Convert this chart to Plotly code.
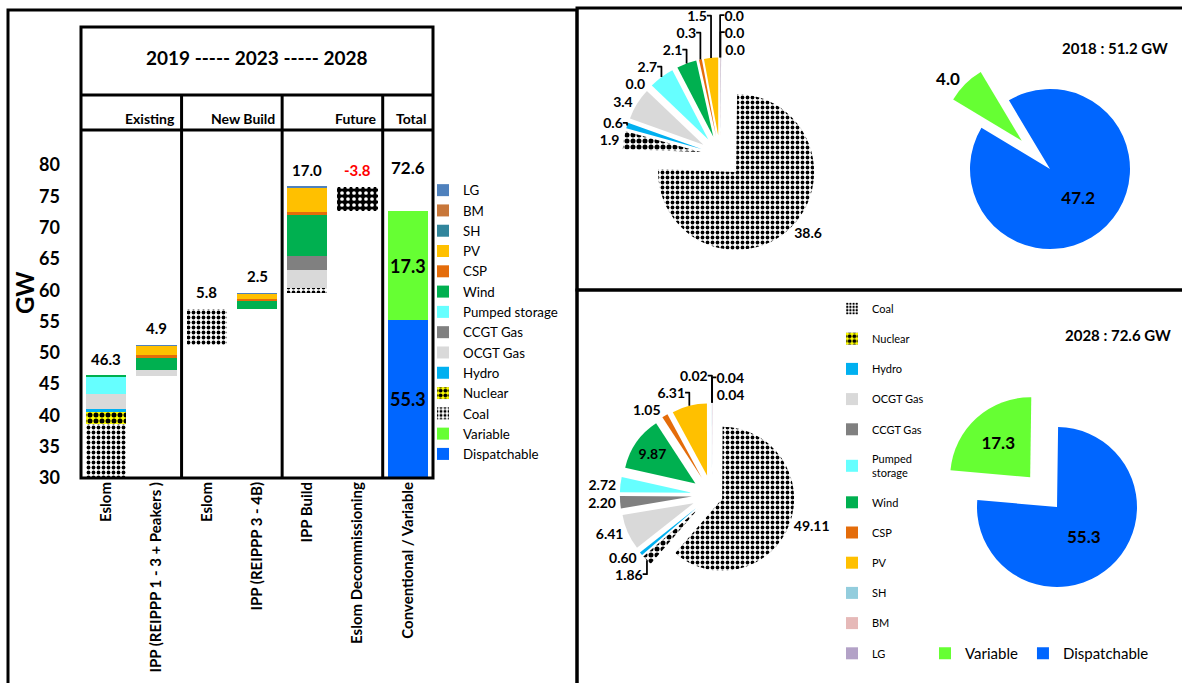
import plotly.graph_objects as go

W, H = 1182, 683
FONT = "Lato"

# ---------------- data ----------------
categories = ["Eslom", "IPP (REIPPP 1 - 3 + Peakers )", "Eslom", "IPP (REIPPP 3 - 4B)",
              "IPP Build", "Eslom Decommissioning", "Conventional / Variable"]
coal = [38.6, 0, 5.8, 0, 0.8, 0, 0]
nuclear = [1.9, 0, 0, 0, 0, 0, 0]
hydro = [0.6, 0, 0, 0, 0, 0, 0]
ocgt = [2.4, 1.0, 0, 0, 3.0, 0, 0]
ccgt = [0, 0, 0, 0, 2.2, 0, 0]
pumped = [2.7, 0, 0, 0, 0, 0, 0]
wind = [0.1, 2.0, 0, 1.3, 6.47, 0, 0]
csp = [0, 0.3, 0, 0.25, 0.5, 0, 0]
pv = [0, 1.5, 0, 0.9, 3.91, 0, 0]
sh = [0, 0.04, 0, 0, 0.02, 0, 0]
bm = [0, 0.02, 0, 0.02, 0.05, 0, 0]
lg = [0, 0.04, 0, 0.03, 0.05, 0, 0]
decommissioning = [0, 0, 0, 0, 0, 3.8, 0]
dispatchable = [0, 0, 0, 0, 0, 0, 55.3]
variable = [0, 0, 0, 0, 0, 0, 17.3]
y_ticks = [30, 35, 40, 45, 50, 55, 60, 65, 70, 75, 80]

mix_labels = ["Coal", "Nuclear", "Hydro", "OCGT Gas", "CCGT Gas", "Pumped storage",
              "Wind", "CSP", "PV", "SH", "BM", "LG"]
mix_2018 = [38.6, 1.9, 0.6, 3.4, 0.0, 2.7, 2.1, 0.3, 1.5, 0.02, 0.04, 0.04]
mix_2028 = [49.11, 1.86, 0.60, 6.41, 2.20, 2.72, 9.87, 1.05, 6.31, 0.02, 0.04, 0.04]

vd_labels = ["Variable", "Dispatchable"]
vd_2018 = [4.0, 47.2]
vd_2028 = [17.3, 55.3]
years = ["2018", "2028"]

header_text = "2019 ----- 2023 ----- 2028"
groups = ["Existing", "New Build", "Future", "Total"]

# ---------------- helpers ----------------
def px(x):
    return x / W


def py(y):
    return 1 - y / H


n = len(categories)
xs = list(range(n))
stack_series = [
    ("Coal", coal), ("Nuclear", nuclear), ("Hydro", hydro), ("OCGT Gas", ocgt),
    ("CCGT Gas", ccgt), ("Pumped storage", pumped), ("Wind", wind), ("CSP", csp),
    ("PV", pv), ("SH", sh), ("BM", bm), ("LG", lg),
]
bar_colors = {
    "Coal": "white", "Nuclear": "#ffff00", "Hydro": "#00b0f0", "OCGT Gas": "#d9d9d9",
    "CCGT Gas": "#808080", "Pumped storage": "#66ffff", "Wind": "#00b050", "CSP": "#e46c0a",
    "PV": "#ffc000", "SH": "#31859c", "BM": "#c8773a", "LG": "#4f81bd",
}
pie_colors = {
    "Coal": "white", "Nuclear": "#ffff00", "Hydro": "#00b0f0", "OCGT Gas": "#d9d9d9",
    "CCGT Gas": "#808080", "Pumped storage": "#66ffff", "Wind": "#00b050", "CSP": "#e46c0a",
    "PV": "#ffc000", "SH": "#93cddd", "BM": "#e6b9b8", "LG": "#b3a2c7",
}
VAR_C, DISP_C = "#66ff33", "#0066ff"

col_tot = [sum(s[i] for _, s in stack_series) for i in range(n)]
offset, running = [], 0.0
for i in range(n):
    if decommissioning[i] > 0:
        running -= decommissioning[i]
        offset.append(running)
    elif dispatchable[i] + variable[i] > 0:
        offset.append(0)
    else:
        offset.append(running)
        running += col_tot[i]


def pattern_for(name, small=False):
    if name == "Coal":
        return dict(shape=".", fgcolor="black", bgcolor="white", size=4 if small else 5, solidity=0.45)
    if name == "Nuclear":
        return dict(shape=".", fgcolor="black", bgcolor="#ffff00", size=6, solidity=0.55)
    return None


fig = go.Figure()

# invisible waterfall offset
fig.add_trace(go.Bar(x=xs, y=offset, marker=dict(color="rgba(0,0,0,0)", line=dict(width=0)),
                     showlegend=False, hoverinfo="skip"))
# decommissioning block
fig.add_trace(go.Bar(x=xs, y=decommissioning, showlegend=False,
                     marker=dict(color="black", line=dict(width=0),
                                 pattern=dict(shape=".", fgcolor="white", bgcolor="black", size=6, solidity=0.3))))
fig.add_trace(go.Bar(x=xs, y=dispatchable, name="Dispatchable", marker=dict(color=DISP_C, line=dict(width=0))))
fig.add_trace(go.Bar(x=xs, y=variable, name="Variable", marker=dict(color=VAR_C, line=dict(width=0))))
for name, vals in stack_series:
    mk = dict(color=bar_colors[name], line=dict(width=0))
    p = pattern_for(name)
    if p:
        mk["pattern"] = p
    fig.add_trace(go.Bar(x=xs, y=vals, name=name, marker=mk))

# legend2 entries (2028 mix pie legend)
for i, name in enumerate(mix_labels):
    mk = dict(color=pie_colors[name], line=dict(width=0))
    p = pattern_for(name, small=True)
    if p:
        mk["pattern"] = p
    fig.add_trace(go.Bar(x=[None], y=[None], name=name.replace("Pumped storage", "Pumped<br>storage"),
                         marker=mk, legend="legend2", legendgroup=f"mix{i}", showlegend=True))


# pies
def mix_pie(values, center, pulls, fmt, textpos, domain_half, front):
    # tiny slices listed in `front` are drawn first (just clockwise of 12 o'clock)
    order = [mix_labels.index(f) for f in front] + [i for i, l in enumerate(mix_labels) if l not in front]
    labs = [mix_labels[i] for i in order]
    vals = [values[i] for i in order]
    pl = [pulls[i] for i in order]
    tp = [textpos[i] for i in order]
    cx, cy = center
    shapes = ["." if l in ("Coal", "Nuclear") else "" for l in labs]
    fg = ["black" if l in ("Coal", "Nuclear") else pie_colors[l] for l in labs]
    sol = [0.45 if l == "Coal" else (0.55 if l == "Nuclear" else 0.3) for l in labs]
    sz = [5 if l == "Coal" else 6 for l in labs]
    return go.Pie(
        labels=labs, values=vals, sort=False, direction="clockwise", rotation=0,
        pull=pl, showlegend=False,
        marker=dict(colors=[pie_colors[l] for l in labs], line=dict(width=0),
                    pattern=dict(shape=shapes, fgcolor=fg, solidity=sol, size=sz)),
        texttemplate="%{value:" + fmt + "}", textposition=tp,
        insidetextorientation="horizontal",
        textfont=dict(family=FONT, size=14, color="black", weight="bold"),
        domain=dict(x=[px(cx - domain_half), px(cx + domain_half)],
                    y=[py(cy + domain_half), py(cy - domain_half)]),
        hoverinfo="label+value",
    )


pull_2018 = [0.3] + [0.25] * (len(mix_labels) - 1)
fig.add_trace(mix_pie(mix_2018, (720, 155), pull_2018, ".1f", ["outside"] * len(mix_labels),
                      78 * 1.3, ["SH", "BM", "LG"]))
pull_2028 = [0.15] + [0.28] * (len(mix_labels) - 1)
tp_2028 = ["inside" if l == "Wind" else "outside" for l in mix_labels]
fig.add_trace(mix_pie(mix_2028, (712, 495), pull_2028, ".2f", tp_2028, 72 * 1.28, ["BM", "LG"]))


def vd_pie(values, center, rotation, textpos, show_leg):
    cx, cy = center
    half = 80 * 1.5
    return go.Pie(
        labels=vd_labels, values=values, sort=False, direction="clockwise", rotation=rotation,
        pull=[0.5, 0], marker=dict(colors=[VAR_C, DISP_C], line=dict(width=0)),
        texttemplate="%{value:.1f}", textposition=textpos, insidetextorientation="horizontal",
        textfont=dict(family=FONT, size=17, color="black", weight="bold"),
        domain=dict(x=[px(cx - half), px(cx + half)], y=[py(cy + half), py(cy - half)]),
        showlegend=show_leg, legend="legend3",
    )


fig.add_trace(vd_pie(vd_2018, (1050, 169), 301, ["outside", "inside"], False))
fig.add_trace(vd_pie(vd_2028, (1057, 507), 275, ["inside", "inside"], True))

# ---------------- annotations ----------------
ann = []
lab_font = dict(family=FONT, size=15, color="black", weight="bold")
y_lo = y_ticks[0]
for i in range(n):
    if decommissioning[i] > 0:
        top = offset[i] + decommissioning[i]
        ann.append(dict(x=i, y=top, xref="x", yref="y", text=f"-{decommissioning[i]:.1f}",
                        showarrow=False, xanchor="center", yanchor="bottom", yshift=6,
                        font=dict(family=FONT, size=15, color="#ff0000", weight="bold")))
    elif dispatchable[i] + variable[i] > 0:
        total = dispatchable[i] + variable[i]
        ann.append(dict(x=i, y=total, xref="x", yref="y", text=f"{total:.1f}", showarrow=False,
                        xanchor="center", yanchor="bottom", yshift=31,
                        font=dict(family=FONT, size=17, color="black", weight="bold")))
        ann.append(dict(x=i, y=(max(y_lo, 0) + dispatchable[i]) / 2, xref="x", yref="y",
                        text=f"{dispatchable[i]:.1f}", showarrow=False, xanchor="center", yanchor="middle",
                        font=dict(family=FONT, size=18, color="black", weight="bold")))
        ann.append(dict(x=i, y=dispatchable[i] + variable[i] / 2, xref="x", yref="y",
                        text=f"{variable[i]:.1f}", showarrow=False, xanchor="center", yanchor="middle",
                        font=dict(family=FONT, size=18, color="black", weight="bold")))
    else:
        top = offset[i] + col_tot[i]
        ann.append(dict(x=i, y=top, xref="x", yref="y", text=f"{col_tot[i]:.1f}", showarrow=False,
                        xanchor="center", yanchor="bottom", yshift=6, font=lab_font))

ann.append(dict(x=px(257), y=py(57), xref="paper", yref="paper", text=header_text, showarrow=False,
                xanchor="center", yanchor="middle",
                font=dict(family=FONT, size=19, color="black", weight="bold")))
for g, xb in zip(groups, [1.5, 3.5, 5.5, 6.5]):
    ann.append(dict(x=xb, y=py(119), xref="x", yref="paper", text=g, showarrow=False,
                    xanchor="right", yanchor="middle", xshift=-5,
                    font=dict(family=FONT, size=14, color="black", weight="bold")))
ann.append(dict(x=px(24), y=py(292), xref="paper", yref="paper", text="GW", textangle=-90, showarrow=False,
                xanchor="center", yanchor="middle",
                font=dict(family=FONT, size=24, color="black", weight="bold")))
ann.append(dict(x=px(1115), y=py(48), xref="paper", yref="paper", text=f"{years[0]} : {sum(vd_2018):.1f} GW",
                showarrow=False, xanchor="center", yanchor="middle",
                font=dict(family=FONT, size=15, color="black", weight="bold")))
ann.append(dict(x=px(1118), y=py(335), xref="paper", yref="paper", text=f"{years[1]} : {sum(vd_2028):.1f} GW",
                showarrow=False, xanchor="center", yanchor="middle",
                font=dict(family=FONT, size=15, color="black", weight="bold")))

# ---------------- frames ----------------
shapes = []
line3 = dict(color="black", width=3)
shapes.append(dict(type="rect", xref="paper", yref="paper", x0=px(8), x1=px(577), y0=py(690), y1=py(10), line=line3))
shapes.append(dict(type="rect", xref="paper", yref="paper", x0=px(577), x1=px(1190), y0=py(290), y1=py(8), line=line3))
shapes.append(dict(type="rect", xref="paper", yref="paper", x0=px(577), x1=px(1190), y0=py(690), y1=py(290), line=line3))
shapes.append(dict(type="rect", xref="paper", yref="paper", x0=px(81), x1=px(433), y0=py(478), y1=py(27), line=line3))
shapes.append(dict(type="line", xref="paper", yref="paper", x0=px(81), x1=px(433), y0=py(95), y1=py(95), line=line3))
shapes.append(dict(type="line", xref="paper", yref="paper", x0=px(81), x1=px(433), y0=py(130), y1=py(130), line=line3))
for xb in [1.5, 3.5, 5.5]:
    shapes.append(dict(type="line", xref="x", yref="paper", x0=xb, x1=xb, y0=py(478), y1=py(95), line=line3))

fig.update_layout(
    template="none",
    width=W, height=H, margin=dict(l=0, r=0, t=0, b=0),
    paper_bgcolor="white", plot_bgcolor="white",
    barmode="stack", bargap=0.2,
    font=dict(family=FONT, color="black"),
    xaxis=dict(domain=[px(81), px(433)], range=[-0.5, n - 0.5], tickmode="array", tickvals=xs,
               ticktext=categories, tickangle=-90, tickfont=dict(family=FONT, size=15, weight="bold"),
               showline=False, showgrid=False, zeroline=False, ticks="", ticklabelstandoff=0, automargin=False),
    yaxis=dict(domain=[py(478), py(130)], range=[30, 85.6], tickmode="array", tickvals=y_ticks,
               tickfont=dict(family=FONT, size=18, weight="bold"), ticklabelstandoff=20,
               showgrid=False, zeroline=False, showline=False, ticks="", automargin=False),
    legend=dict(x=px(423), y=py(175), xanchor="left", yanchor="top", traceorder="reversed",
                font=dict(family=FONT, size=13.3), bgcolor="rgba(0,0,0,0)", borderwidth=0, tracegroupgap=0),
    legend2=dict(x=px(832), y=py(294), xanchor="left", yanchor="top", traceorder="grouped",
                 font=dict(family=FONT, size=11), bgcolor="rgba(0,0,0,0)", borderwidth=0, tracegroupgap=11.2),
    legend3=dict(x=px(925), y=py(637), xanchor="left", yanchor="top", orientation="h",
                 font=dict(family=FONT, size=15), bgcolor="rgba(0,0,0,0)", borderwidth=0),
    annotations=ann,
    shapes=shapes,
)

fig.write_html("out.html")
